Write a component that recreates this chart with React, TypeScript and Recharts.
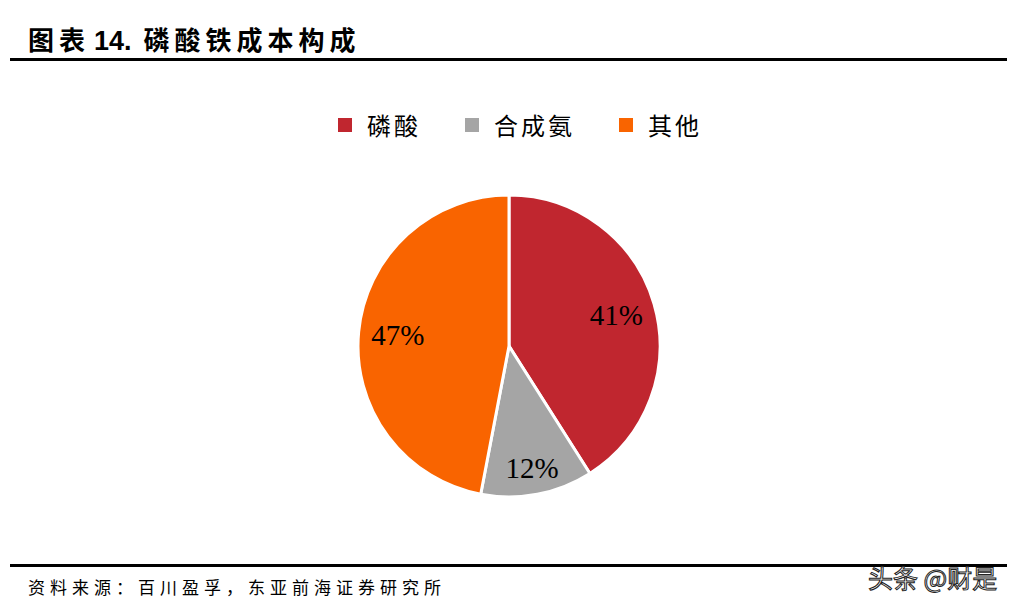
import React from "react";
import { PieChart, Pie, Cell } from "recharts";

const categories = ["磷酸", "合成氨", "其他"];
const shares = [41, 12, 47];
const colors = ["#C0262F", "#A5A5A5", "#F96400"];

const titlePrefix = "图表";
const titleNumber = "14.";
const titleText = "磷酸铁成本构成";
const source = "资料来源：百川盈孚，东亚前海证券研究所";
const watermark = "头条 @财是";

const data = categories.map((name, i) => ({ name, value: shares[i] }));

const RADIAN = Math.PI / 180;

const renderLabel = (props: any) => {
  const { cx, cy, midAngle, outerRadius, value } = props;
  // small slices get their label pushed a bit further out, like the source
  const r = outerRadius * (value < 20 ? 0.82 : 0.74);
  const x = cx + r * Math.cos(-midAngle * RADIAN);
  const y = cy + r * Math.sin(-midAngle * RADIAN);
  return (
    <text
      x={x}
      y={y}
      textAnchor="middle"
      dominantBaseline="central"
      fill="#000"
      fontFamily="'Liberation Serif', 'Times New Roman', serif"
      fontSize={29}
    >
      {value}%
    </text>
  );
};

const cjkTitle = {
  fontFamily: "'Noto Sans CJK SC', sans-serif",
  letterSpacing: 5,
};

export default function App() {
  return (
    <div style={{ position: "absolute", left: 0, top: 0, width: 1023, height: 609, background: "#fff", overflow: "hidden" }}>
      <div
        style={{
          position: "absolute",
          left: 28,
          top: 22,
          fontWeight: 700,
          fontSize: 26,
          color: "#000",
          lineHeight: "34px",
          whiteSpace: "nowrap",
        }}
      >
        <span style={cjkTitle}>{titlePrefix}</span>
        <span
          style={{ fontFamily: "'Liberation Sans', Arial, sans-serif", fontSize: 27, marginLeft: 4, marginRight: 12 }}
        >
          {titleNumber}
        </span>
        <span style={cjkTitle}>{titleText}</span>
      </div>
      <div style={{ position: "absolute", left: 10, top: 58, width: 997, height: 3, background: "#000" }} />

      <div style={{ position: "absolute", left: 338, top: 110, display: "flex", alignItems: "center" }}>
        {categories.map((name, i) => (
          <div key={name} style={{ display: "flex", alignItems: "center", marginRight: 44 }}>
            <span style={{ display: "inline-block", width: 14, height: 14, background: colors[i], marginRight: 15 }} />
            <span
              style={{
                fontFamily: "'Noto Sans CJK SC', sans-serif",
                fontSize: 24,
                letterSpacing: 3,
                color: "#000",
                lineHeight: "30px",
              }}
            >
              {name}
            </span>
          </div>
        ))}
      </div>

      <div style={{ position: "absolute", left: 0, top: 0 }}>
        <PieChart width={1023} height={560} margin={{ top: 0, right: 0, bottom: 0, left: 0 }}>
          <Pie
            data={data}
            dataKey="value"
            nameKey="name"
            cx={509}
            cy={346}
            outerRadius={151}
            startAngle={90}
            endAngle={-270}
            stroke="#fff"
            strokeWidth={3}
            label={renderLabel}
            labelLine={false}
            isAnimationActive={false}
          >
            {data.map((d, i) => (
              <Cell key={d.name} fill={colors[i]} />
            ))}
          </Pie>
        </PieChart>
      </div>

      <div style={{ position: "absolute", left: 10, top: 564, width: 997, height: 3, background: "#000" }} />
      <div
        style={{
          position: "absolute",
          left: 28,
          top: 575,
          fontFamily: "'Noto Sans CJK SC', serif",
          fontSize: 17,
          letterSpacing: 5,
          color: "#000",
          lineHeight: "24px",
          whiteSpace: "nowrap",
        }}
      >
        {source}
      </div>
      <div
        style={{
          position: "absolute",
          left: 868,
          top: 561,
          fontFamily: "'Noto Sans CJK SC', sans-serif",
          fontSize: 25,
          color: "#fff",
          lineHeight: "32px",
          whiteSpace: "nowrap",
          WebkitTextStroke: "1px #222",
        }}
      >
        {watermark}
      </div>
    </div>
  );
}
